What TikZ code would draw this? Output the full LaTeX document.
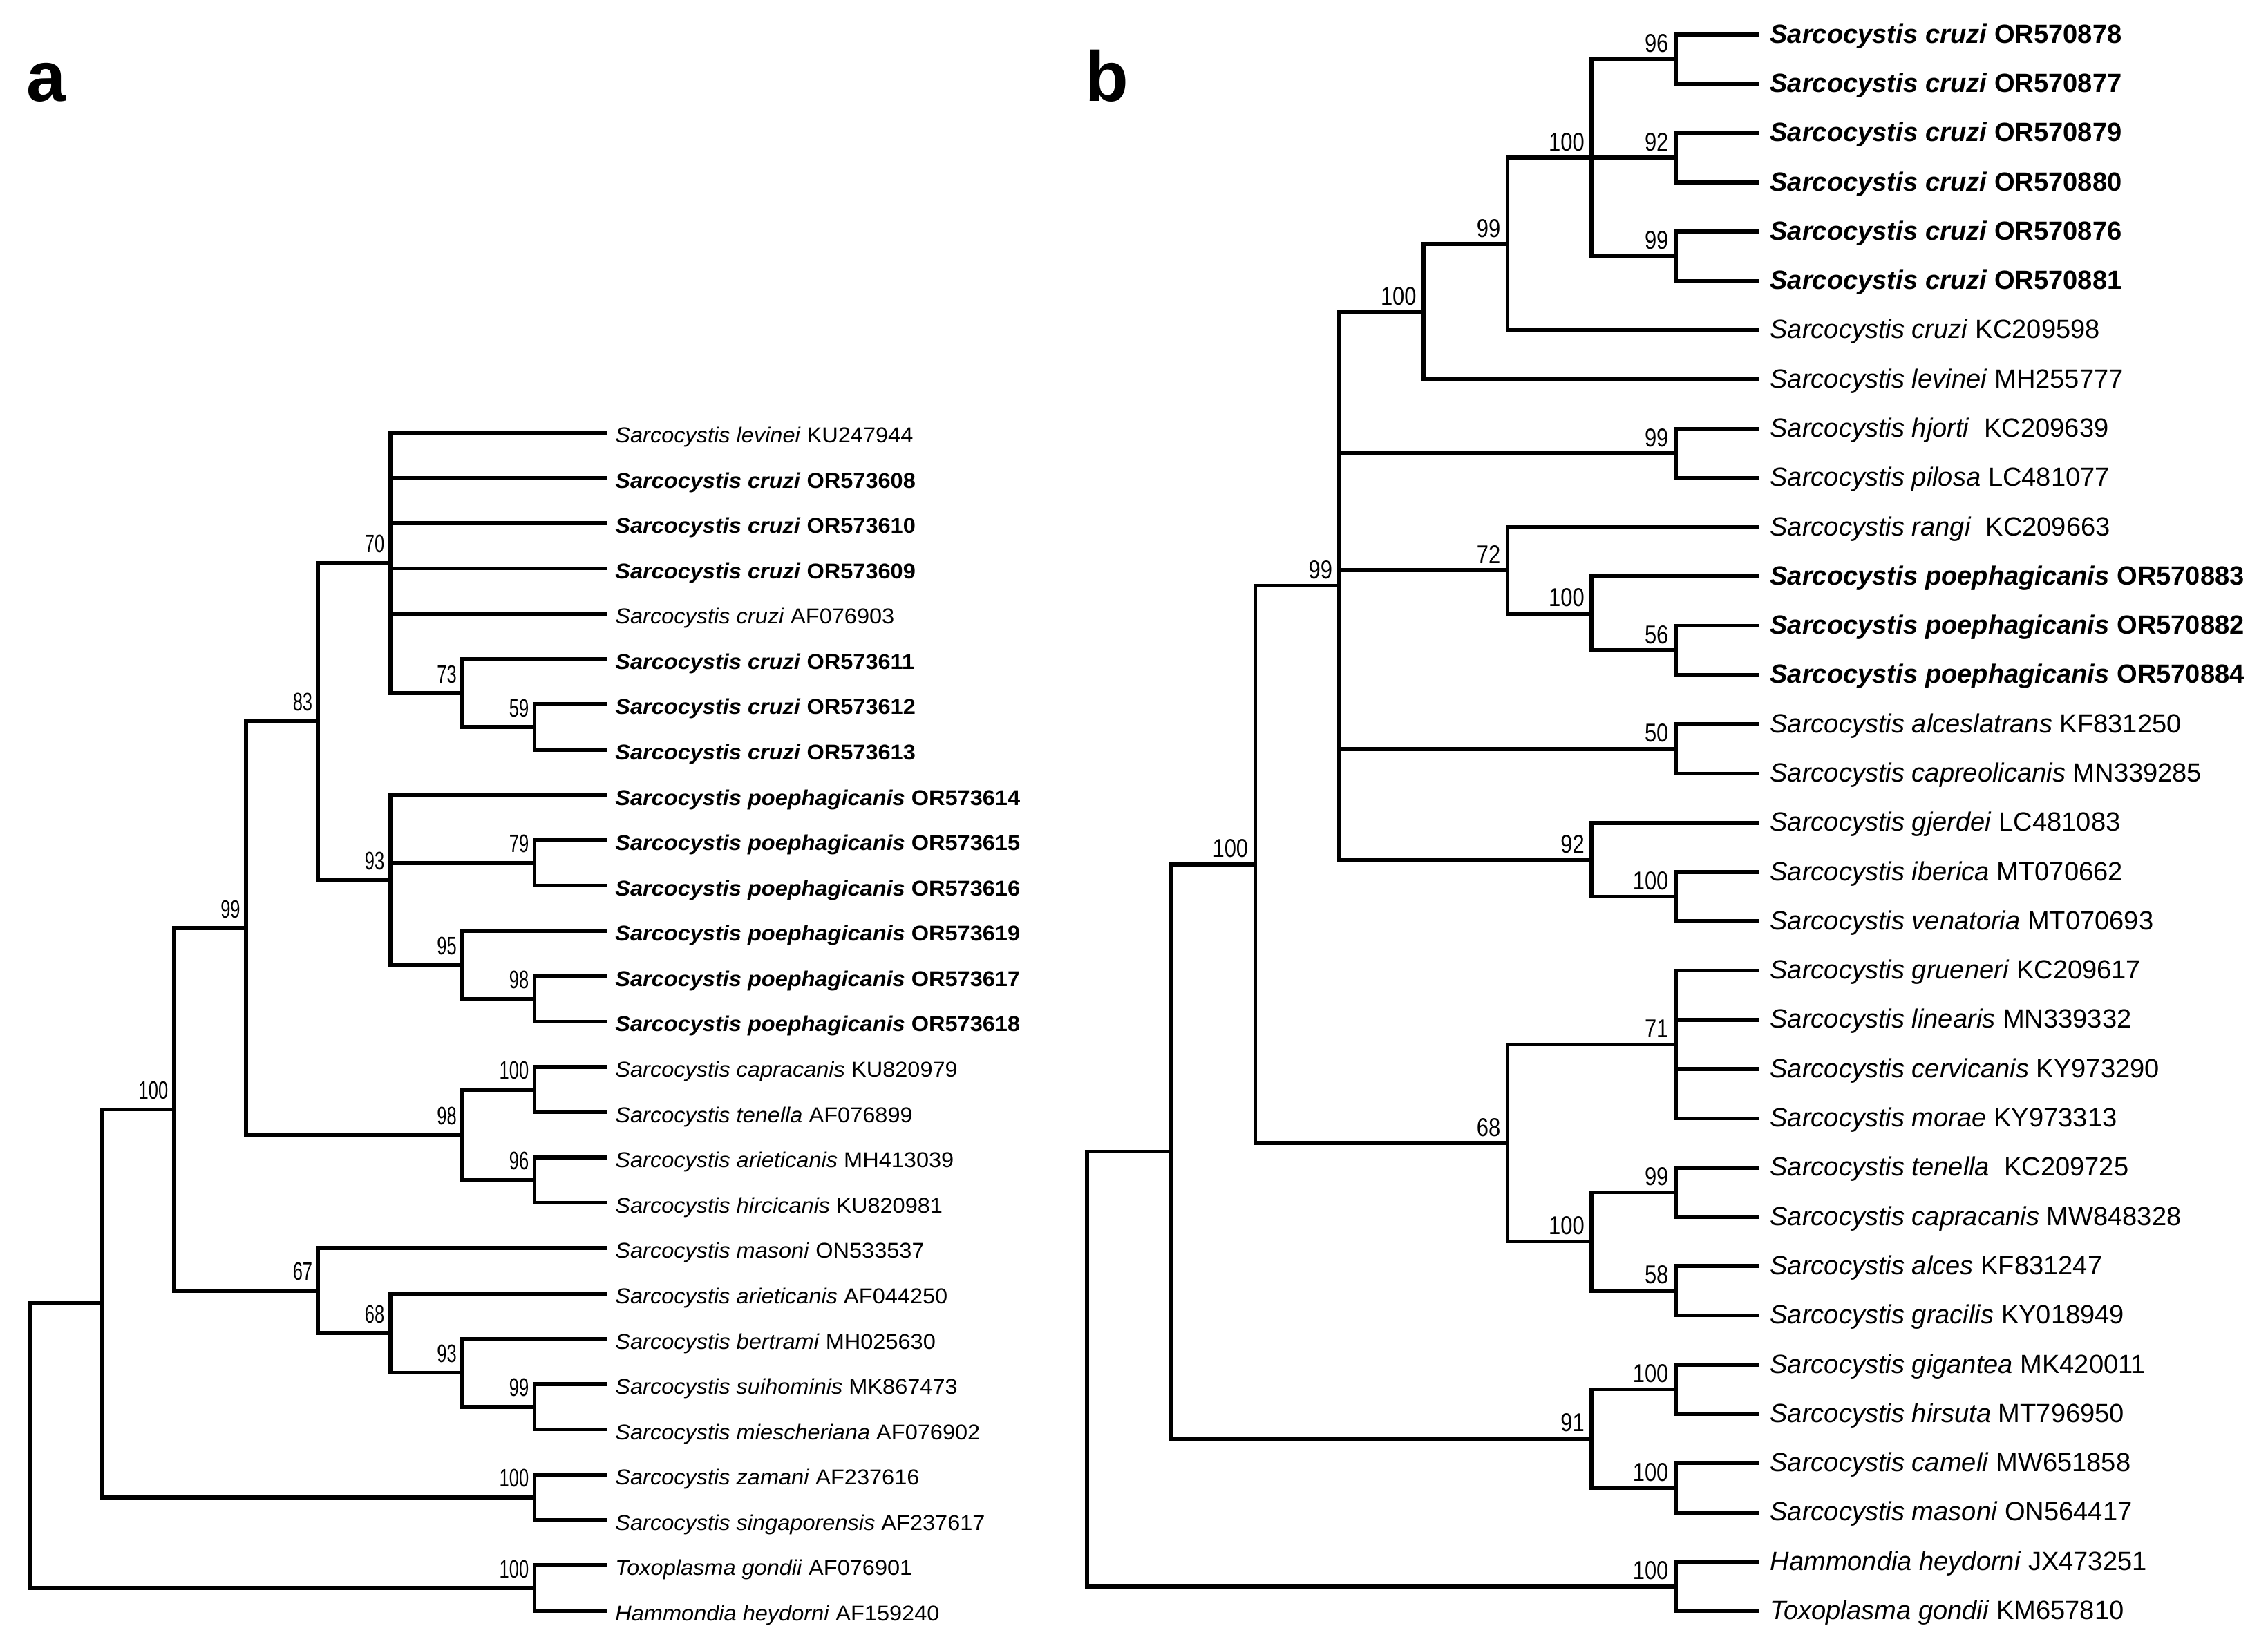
\documentclass[tikz,border=0pt]{standalone}
\usepackage{fontspec}
\setmainfont{Liberation Sans}
\newfontfamily\leaffonta{Liberation Sans}[FakeStretch=1.05]
\newfontfamily\leaffontb{Liberation Sans}
\newfontfamily\bootfonta{Liberation Sans}[FakeStretch=0.7]
\newfontfamily\bootfontb{Liberation Sans}[FakeStretch=0.83]
\newfontfamily\panelfont{Liberation Sans}
\newcommand{\clade}[2]{\draw[edge] (#1) |- (#2);}
\newcommand{\boot}[3]{\node[#3] (s#1) at (#1) {#2};}
\usepackage{tikz}

\begin{document}
\begin{tikzpicture}[x=0.5pt, y=-0.5pt,
  edge/.style={line width=1.35pt},
  leafa/.style={anchor=base west, inner sep=0pt, xshift=2.75pt, yshift=-3.5pt,
    font=\leaffonta\fontsize{7.4pt}{8pt}\selectfont},
  leafb/.style={anchor=base west, inner sep=0pt, xshift=3.45pt, yshift=-2.9pt,
    font=\leaffontb\fontsize{9.1pt}{10pt}\selectfont},
  boota/.style={anchor=south east, inner sep=0pt, xshift=-1.8pt, yshift=3.3pt,
    font=\bootfonta\fontsize{8.7pt}{9pt}\selectfont},
  bootb/.style={anchor=south east, inner sep=0pt, xshift=-2.25pt, yshift=2.1pt,
    font=\bootfontb\fontsize{8.9pt}{9pt}\selectfont},
  panel/.style={anchor=base west, inner sep=0pt,
    font=\panelfont\bfseries\fontsize{24.5pt}{26pt}\selectfont}]
  \useasboundingbox (0,0) rectangle (1568,1138);

  % Panel a
  % -------

  \node[panel] (pa) at (18,69.8) {a};

  \foreach \sp/\acc/\wt [count=\i] in {
    Sarcocystis levinei/KU247944/\mdseries,
    Sarcocystis cruzi/OR573608/\bfseries,
    Sarcocystis cruzi/OR573610/\bfseries,
    Sarcocystis cruzi/OR573609/\bfseries,
    Sarcocystis cruzi/AF076903/\mdseries,
    Sarcocystis cruzi/OR573611/\bfseries,
    Sarcocystis cruzi/OR573612/\bfseries,
    Sarcocystis cruzi/OR573613/\bfseries,
    Sarcocystis poephagicanis/OR573614/\bfseries,
    Sarcocystis poephagicanis/OR573615/\bfseries,
    Sarcocystis poephagicanis/OR573616/\bfseries,
    Sarcocystis poephagicanis/OR573619/\bfseries,
    Sarcocystis poephagicanis/OR573617/\bfseries,
    Sarcocystis poephagicanis/OR573618/\bfseries,
    Sarcocystis capracanis/KU820979/\mdseries,
    Sarcocystis tenella/AF076899/\mdseries,
    Sarcocystis arieticanis/MH413039/\mdseries,
    Sarcocystis hircicanis/KU820981/\mdseries,
    Sarcocystis masoni/ON533537/\mdseries,
    Sarcocystis arieticanis/AF044250/\mdseries,
    Sarcocystis bertrami/MH025630/\mdseries,
    Sarcocystis suihominis/MK867473/\mdseries,
    Sarcocystis miescheriana/AF076902/\mdseries,
    Sarcocystis zamani/AF237616/\mdseries,
    Sarcocystis singaporensis/AF237617/\mdseries,
    Toxoplasma gondii/AF076901/\mdseries,
    Hammondia heydorni/AF159240/\mdseries}{
    \coordinate (ta\i) at (419.5,{299+31.33*(\i-1)});
    \node[leafa] (la\i) at (ta\i) {\wt\textit{\sp} \acc};
  }

  \coordinate (a59) at (369.6,502.65);
  \coordinate (a73) at (319.7,479.2);
  \coordinate (a70) at (269.8,389.1);
  \coordinate (a79) at (369.6,596.65);
  \coordinate (a98b) at (369.6,690.65);
  \coordinate (a95) at (319.7,667.1);
  \coordinate (a93) at (269.8,608.35);
  \coordinate (a83) at (220,498.7);
  \coordinate (a100c) at (369.6,753.3);
  \coordinate (a96) at (369.6,815.95);
  \coordinate (a98) at (319.7,784.6);
  \coordinate (a99) at (170.1,641.65);
  \coordinate (a99b) at (369.6,972.6);
  \coordinate (a93b) at (319.7,949.1);
  \coordinate (a68) at (269.8,921.7);
  \coordinate (a67) at (220,892.35);
  \coordinate (a100) at (120.2,767);
  \coordinate (a100z) at (369.6,1035.25);
  \coordinate (a100in) at (70.4,901.1);
  \coordinate (a100out) at (369.6,1097.95);
  \coordinate (aroot) at (20.5,999.5);

  \foreach \p/\c in {aroot/a100in, aroot/a100out,
    a100in/a100, a100in/a100z, a100/a99, a100/a67,
    a99/a83, a99/a98, a83/a70, a83/a93,
    a70/ta1, a70/ta2, a70/ta3, a70/ta4, a70/ta5, a70/a73,
    a73/ta6, a73/a59, a59/ta7, a59/ta8,
    a93/ta9, a93/a79, a93/a95, a79/ta10, a79/ta11,
    a95/ta12, a95/a98b, a98b/ta13, a98b/ta14,
    a98/a100c, a98/a96, a100c/ta15, a100c/ta16, a96/ta17, a96/ta18,
    a67/ta19, a67/a68, a68/ta20, a68/a93b, a93b/ta21, a93b/a99b,
    a99b/ta22, a99b/ta23, a100z/ta24, a100z/ta25,
    a100out/ta26, a100out/ta27}
  \clade{\p}{\c};

  \foreach \n/\v in {a70/70, a73/73, a59/59, a83/83, a93/93, a79/79,
    a95/95, a98b/98, a99/99, a100c/100, a98/98, a96/96, a100/100,
    a67/67, a68/68, a93b/93, a99b/99, a100z/100, a100out/100}
  \boot{\n}{\v}{boota};

  % Panel b
  % -------

  \node[panel] (pb) at (749.8,69.8) {b};

  \foreach \sp/\acc/\wt [count=\i] in {
    Sarcocystis cruzi/OR570878/\bfseries,
    Sarcocystis cruzi/OR570877/\bfseries,
    Sarcocystis cruzi/OR570879/\bfseries,
    Sarcocystis cruzi/OR570880/\bfseries,
    Sarcocystis cruzi/OR570876/\bfseries,
    Sarcocystis cruzi/OR570881/\bfseries,
    Sarcocystis cruzi/KC209598/\mdseries,
    Sarcocystis levinei/MH255777/\mdseries,
    Sarcocystis hjorti/\ KC209639/\mdseries,
    Sarcocystis pilosa/LC481077/\mdseries,
    Sarcocystis rangi/\ KC209663/\mdseries,
    Sarcocystis poephagicanis/OR570883/\bfseries,
    Sarcocystis poephagicanis/OR570882/\bfseries,
    Sarcocystis poephagicanis/OR570884/\bfseries,
    Sarcocystis alceslatrans/KF831250/\mdseries,
    Sarcocystis capreolicanis/MN339285/\mdseries,
    Sarcocystis gjerdei/LC481083/\mdseries,
    Sarcocystis iberica/MT070662/\mdseries,
    Sarcocystis venatoria/MT070693/\mdseries,
    Sarcocystis grueneri/KC209617/\mdseries,
    Sarcocystis linearis/MN339332/\mdseries,
    Sarcocystis cervicanis/KY973290/\mdseries,
    Sarcocystis morae/KY973313/\mdseries,
    Sarcocystis tenella/\ KC209725/\mdseries,
    Sarcocystis capracanis/MW848328/\mdseries,
    Sarcocystis alces/KF831247/\mdseries,
    Sarcocystis gracilis/KY018949/\mdseries,
    Sarcocystis gigantea/MK420011/\mdseries,
    Sarcocystis hirsuta/MT796950/\mdseries,
    Sarcocystis cameli/MW651858/\mdseries,
    Sarcocystis masoni/ON564417/\mdseries,
    Hammondia heydorni/JX473251/\mdseries,
    Toxoplasma gondii/KM657810/\mdseries}{
    \coordinate (tb\i) at (1216.5,{23.9+34.06*(\i-1)});
    \node[leafb] (lb\i) at (tb\i) {\wt\textit{\sp} \acc};
  }

  \coordinate (b96) at (1158.4,40.93);
  \coordinate (b92) at (1158.4,109.05);
  \coordinate (b99) at (1158.4,177.17);
  \coordinate (b100) at (1100.3,109.05);
  \coordinate (b99b) at (1042.2,168.66);
  \coordinate (b100b) at (984.1,215.49);
  \coordinate (b99c) at (1158.4,313.41);
  \coordinate (b56) at (1158.4,449.65);
  \coordinate (b100c) at (1100.3,424.1);
  \coordinate (b72) at (1042.2,394.3);
  \coordinate (b50) at (1158.4,517.77);
  \coordinate (b100d) at (1158.4,619.95);
  \coordinate (b92b) at (1100.3,594.4);
  \coordinate (b99r) at (926,404.95);
  \coordinate (b71) at (1158.4,722.13);
  \coordinate (b99d) at (1158.4,824.31);
  \coordinate (b58) at (1158.4,892.43);
  \coordinate (b100e) at (1100.3,858.37);
  \coordinate (b68) at (1042.2,790.25);
  \coordinate (b100f) at (867.8,597.6);
  \coordinate (b100g) at (1158.4,960.55);
  \coordinate (b100h) at (1158.4,1028.67);
  \coordinate (b91) at (1100.3,994.61);
  \coordinate (b100i) at (809.7,796.1);
  \coordinate (b100j) at (1158.4,1096.79);
  \coordinate (broot) at (751.6,946.45);

  \foreach \p/\c in {broot/b100i, broot/b100j,
    b100i/b100f, b100i/b91, b100f/b99r, b100f/b68,
    b99r/b100b, b99r/b99c, b99r/b72, b99r/b50, b99r/b92b,
    b100b/b99b, b100b/tb8, b99b/b100, b99b/tb7,
    b100/b96, b100/b92, b100/b99,
    b96/tb1, b96/tb2, b92/tb3, b92/tb4, b99/tb5, b99/tb6,
    b99c/tb9, b99c/tb10,
    b72/tb11, b72/b100c, b100c/tb12, b100c/b56, b56/tb13, b56/tb14,
    b50/tb15, b50/tb16,
    b92b/tb17, b92b/b100d, b100d/tb18, b100d/tb19,
    b68/b71, b68/b100e, b71/tb20, b71/tb21, b71/tb22, b71/tb23,
    b100e/b99d, b100e/b58, b99d/tb24, b99d/tb25, b58/tb26, b58/tb27,
    b91/b100g, b91/b100h, b100g/tb28, b100g/tb29, b100h/tb30, b100h/tb31,
    b100j/tb32, b100j/tb33}
  \clade{\p}{\c};

  \foreach \n/\v in {b96/96, b92/92, b99/99, b100/100, b99b/99, b100b/100,
    b99c/99, b99r/99, b72/72, b100c/100, b56/56, b50/50, b92b/92,
    b100d/100, b100f/100, b71/71, b68/68, b99d/99, b100e/100, b58/58,
    b100g/100, b91/91, b100h/100, b100j/100}
  \boot{\n}{\v}{bootb};

\end{tikzpicture}
\end{document}
